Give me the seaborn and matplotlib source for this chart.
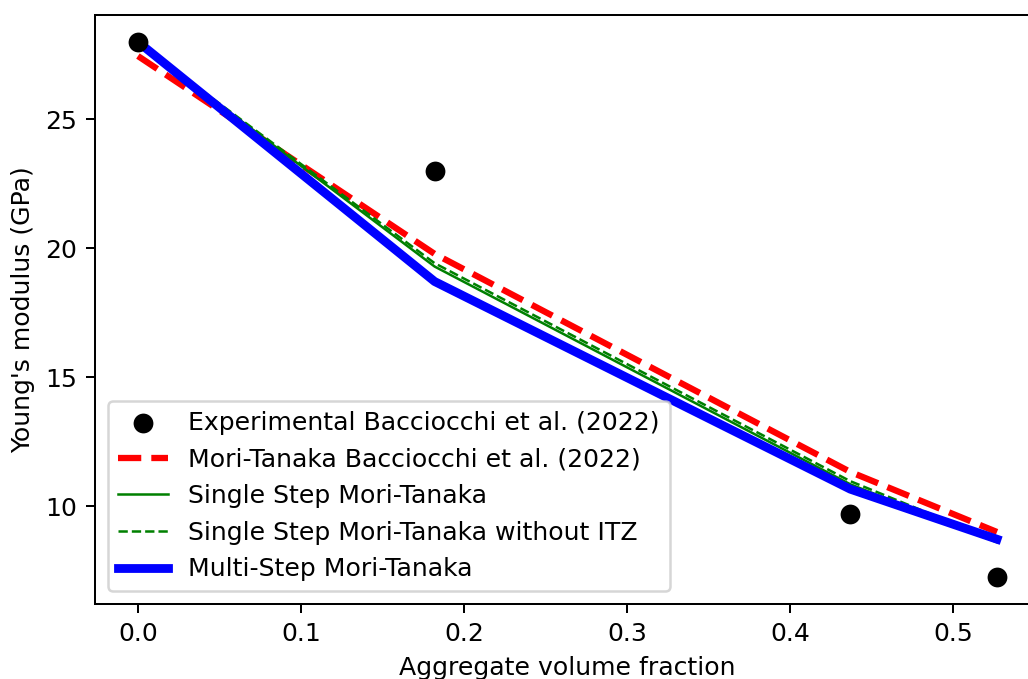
import numpy as np
import pandas as pd
import matplotlib
matplotlib.use("Agg")
import matplotlib.pyplot as plt
import seaborn as sns

# aggregate volume fraction
vf = [0.0, 0.182, 0.437, 0.527]

exp_E = [28.0, 23.0, 9.7, 7.25]
mt_bacciocchi = [27.45, 19.78, 11.33, 9.0]
single_step = [27.95, 19.29, 10.85, 8.6]
single_step_no_itz = [27.95, 19.42, 10.97, 8.65]
multi_step = [28.0, 18.71, 10.66, 8.72]

plt.rcParams["font.family"] = ["DejaVu Sans"]

dpi = 181
fig = plt.figure(figsize=(1028 / dpi, 679 / dpi), dpi=dpi)
ax = fig.add_axes([0.0924, 0.1105, 0.9193, 0.8674])

sns.scatterplot(x=vf, y=exp_E, ax=ax, color="black", s=62, edgecolor="black",
                linewidth=0, label="Experimental Bacciocchi et al. (2022)", zorder=3)
sns.lineplot(x=vf, y=mt_bacciocchi, ax=ax, color="red", lw=2.5, linestyle="--",
             label="Mori-Tanaka Bacciocchi et al. (2022)")
sns.lineplot(x=vf, y=single_step, ax=ax, color="green", lw=1,
             label="Single Step Mori-Tanaka")
sns.lineplot(x=vf, y=single_step_no_itz, ax=ax, color="green", lw=1, linestyle="--",
             label="Single Step Mori-Tanaka without ITZ")
sns.lineplot(x=vf, y=multi_step, ax=ax, color="blue", lw=3.5,
             label="Multi-Step Mori-Tanaka")

ax.set_xlim(-0.02635, 0.5534)
ax.set_ylim(6.21, 29.04)
ax.set_xticks([0.0, 0.1, 0.2, 0.3, 0.4, 0.5])
ax.set_yticks([10, 15, 20, 25])
ax.set_xlabel("Aggregate volume fraction")
ax.set_ylabel("Young's modulus (GPa)")
ax.legend(loc="lower left")

fig.savefig("out.png", dpi=dpi)
